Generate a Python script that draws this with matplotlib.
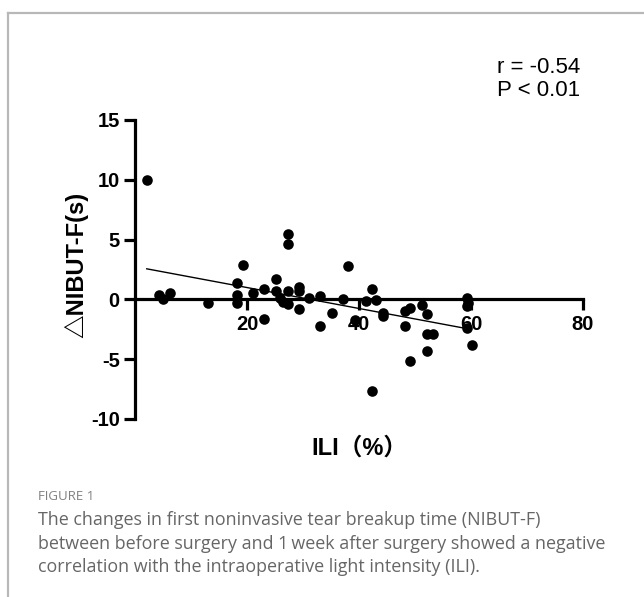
import numpy as np
import matplotlib
matplotlib.use("Agg")
import matplotlib.pyplot as plt
from matplotlib.lines import Line2D

plt.rcParams["axes.unicode_minus"] = False

# ---------------------------------------------------------------- data
ili = [2.1, 4.2, 5.05, 6.25, 13.1, 18.2, 18.2, 18.2, 19.2, 21.1,
       23.1, 23.1, 25.2, 25.2, 25.9, 26.4, 27.3, 27.4, 27.3, 27.3,
       29.2, 29.2, 29.2, 31.1, 33.0, 33.0, 35.1, 37.2, 38.1, 39.3,
       41.2, 42.3, 43.1, 44.2, 44.2, 42.3, 48.2, 48.2, 49.1, 49.1,
       51.2, 52.2, 52.2, 53.3, 52.2, 59.2, 59.2, 59.5, 59.2, 60.2]
d_nibut = [10.0, 0.36, 0.0, 0.56, -0.28, 1.4, 0.4, -0.33, 2.86, 0.56,
           0.83, -1.67, 1.72, 0.7, 0.14, -0.22, 0.7, -0.36, 5.5, 4.64,
           1.06, 0.7, -0.83, 0.14, 0.28, -2.2, -1.17, 0.06, 2.78, -1.72,
           -0.1, 0.83, -0.06, -1.1, -1.4, -7.64, -0.97, -2.22, -0.69, -5.19,
           -0.47, -1.25, -2.86, -2.86, -4.3, 0.14, -0.56, -0.3, -2.42, -3.83]
# regression line as drawn in the figure (slope / intercept)
fit_slope = -0.0875
fit_intercept = 2.74
fit_range = [2.1, 59.0]
x_ticks = [20, 40, 60, 80]
y_ticks = [-10, -5, 0, 5, 10, 15]
stats_text = "r = -0.54\nP < 0.01"
caption_head = "FIGURE 1"
caption = ("The changes in first noninvasive tear breakup time (NIBUT-F)\n"
           "between before surgery and 1\u2009week after surgery showed a negative\n"
           "correlation with the intraoperative light intensity (ILI).")

BOLD = ["Liberation Sans", "Noto Sans CJK SC", "DejaVu Sans"]

fig = plt.figure(figsize=(6.44, 5.97), dpi=100)

# gray frame of the figure panel (left and top edges)
fig.add_artist(Line2D([0.013, 0.013], [0, 0.978], color="#b8b8b8", lw=1.6,
                      transform=fig.transFigure))
fig.add_artist(Line2D([0.013, 1.0], [0.978, 0.978], color="#b8b8b8", lw=1.6,
                      transform=fig.transFigure))

ax = fig.add_axes([0.2096, 0.2982, 0.6957, 0.5008])
ax.scatter(ili, d_nibut, s=58, color="black", zorder=4, clip_on=False, linewidths=0)

xs = np.array(fit_range)
ax.plot(xs, fit_slope * xs + fit_intercept, color="black", lw=1.0, zorder=3)

ax.set_xlim(0, 80)
ax.set_ylim(-10, 15)
for s in ("top", "right"):
    ax.spines[s].set_visible(False)
ax.spines["bottom"].set_position(("data", 0))
ax.spines["left"].set_bounds(-10, 15)
ax.spines["bottom"].set_bounds(0, 80)
for s in ("left", "bottom"):
    ax.spines[s].set_linewidth(2.3)
ax.set_xticks(x_ticks)
ax.set_yticks(y_ticks)
ax.tick_params(width=2.3, length=8, labelsize=14.5, pad=3)
for lab in ax.get_xticklabels() + ax.get_yticklabels():
    lab.set_fontfamily(BOLD); lab.set_fontweight("bold")

fig.text(0.118, 0.556, "\u25b3NIBUT-F(s)", rotation=90, ha="center", va="center",
         fontsize=17, fontweight="bold", family=BOLD)
fig.text(0.558, 0.249, "ILI\uff08%\uff09", ha="center", va="center",
         fontsize=17, fontweight="bold", family=BOLD)
fig.text(0.772, 0.868, stats_text, ha="left", va="center", fontsize=16,
         family=BOLD, linespacing=1.1)

fig.text(0.059, 0.168, caption_head, ha="left", va="center", fontsize=9.5,
         color="#808080", family=["Open Sans", "DejaVu Sans"])
fig.text(0.059, 0.089, caption, ha="left", va="center", fontsize=12.9,
         color="#666666", family=["Open Sans", "DejaVu Sans"], linespacing=1.4)

fig.savefig("out.png", dpi=100)
